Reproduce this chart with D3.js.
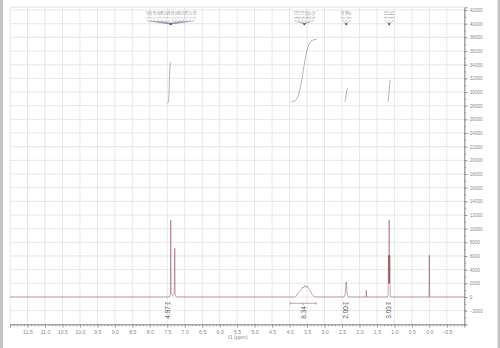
<!DOCTYPE html>
<html>
<head>
<meta charset="utf-8">
<script src="https://cdn.jsdelivr.net/npm/d3@7/dist/d3.min.js"></script>
<style>
	body{margin:0;background:#fff;}
	svg{display:block;font-family:"Liberation Sans",Arial,sans-serif;}
</style>
</head>
<body>
<svg id="nmr" width="500" height="348"></svg>
<script>
	// spectrum trace (ppm, intensity)
	var specPpm = [12.0, 7.44, 7.41, 7.40, 7.39, 7.35, 7.30, 7.285, 7.275, 7.24,
		3.86, 3.80, 3.76, 3.74, 3.70, 3.66, 3.63, 3.60, 3.56, 3.52, 3.49, 3.45, 3.41, 3.36, 3.30, 3.26,
		2.45, 2.41, 2.38, 2.35, 2.31,
		1.815, 1.805, 1.795,
		1.20, 1.18, 1.17, 1.16, 1.15, 1.14, 1.13, 1.12, 1.10,
		0.01, 0.0, -0.01, -1.0];
	var specInt = [0, 0, 300, 11250, 600, 200, 400, 7120, 300, 0,
		0, 200, 650, 730, 900, 1100, 1460, 1300, 1710, 1400, 1600, 1200, 900, 400, 100, 0,
		0, 300, 2200, 300, 0,
		0, 980, 0,
		0, 300, 6100, 2000, 11300, 2000, 6100, 300, 0,
		0, 6100, 0, 0];

	// integral curves (ppm, level on the intensity axis)
	var integralCurves = [
		[[7.50,28350],[7.47,28500],[7.45,30000],[7.43,33000],[7.41,34200],[7.39,34400]],
		[[3.95,28550],[3.88,28650],[3.81,28850],[3.74,29700],[3.66,31500],[3.58,34000],[3.50,36150],[3.42,37200],[3.36,37550],[3.22,37720]],
		[[2.42,28580],[2.40,28900],[2.38,29600],[2.36,30300],[2.33,30550]],
		[[1.18,28580],[1.16,29500],[1.14,31000],[1.12,31760]]
	];
	var integralFrom = [7.55, 3.98, 2.46, 1.23];
	var integralTo = [7.42, 3.24, 2.32, 1.12];
	var integralValue = ["4.97", "8.34", "2.00", "3.03"];

	// peak label groups
	var peakGroupPpm = [7.40, 3.58, 2.38, 1.15];
	var peakGroupLabels = [
		["7.42","7.41","7.40","7.39","7.38","7.37","7.36","7.35","7.31","7.30","7.29","7.28","7.27","7.26"],
		["3.73","3.71","3.70","3.59","3.57","3.52"],
		["2.40","2.38","2.37"],
		["1.19","1.17","1.15"]
	];

	var xTicks = [11.5,11.0,10.5,10.0,9.5,9.0,8.5,8.0,7.5,7.0,6.5,6.0,5.5,5.0,4.5,4.0,3.5,3.0,2.5,2.0,1.5,1.0,0.5,0.0,-0.5];
	var yTicks = [-2000,0,2000,4000,6000,8000,10000,12000,14000,16000,18000,20000,22000,24000,26000,28000,30000,32000,34000,36000,38000,40000,42000];

	var svg = d3.select("#nmr");
	var plotL = 10, plotR = 464.3, plotT = 7.3, plotB = 324.3;
	var x = d3.scaleLinear().domain([12, -1]).range([plotL, plotR]);
	var y = d3.scaleLinear().domain([-4000, 42400]).range([plotB, plotT]);

	// side strips of the page
	svg.append("rect").attr("x",0).attr("y",0).attr("width",3).attr("height",348).attr("fill","#c4c4c4");
	svg.append("rect").attr("x",497.5).attr("y",0).attr("width",2.5).attr("height",348).attr("fill","#c4c4c4");

	// grid
	var grid = svg.append("g").attr("stroke","#dcdcdc").attr("stroke-width",0.7);
	grid.selectAll("line.v").data([12].concat(xTicks)).enter().append("line")
		.attr("x1",function(d){return x(d)}).attr("x2",function(d){return x(d)})
		.attr("y1",plotT).attr("y2",plotB);
	grid.selectAll("line.h").data(yTicks.concat([42400])).enter().append("line")
		.attr("x1",plotL).attr("x2",plotR)
		.attr("y1",function(d){return y(d)}).attr("y2",function(d){return y(d)});

	// x axis
	var xAxis = svg.append("g").attr("transform","translate(0,"+plotB+")");
	xAxis.call(d3.axisBottom(x).tickValues(d3.range(-10,121).map(function(i){return i/10})).tickSize(2).tickFormat(""));
	xAxis.append("g").call(d3.axisBottom(x).tickValues(xTicks).tickSize(3.5).tickPadding(3).tickFormat(d3.format(".1f")));
	xAxis.selectAll("path,line").attr("stroke","#8a8a8a").attr("stroke-width",0.7);
	xAxis.selectAll("text").attr("fill","#8a8a8a").attr("font-size",5.2).attr("font-family","Liberation Sans, Arial, sans-serif");
	svg.append("text").attr("x",238).attr("y",339).attr("text-anchor","middle")
		.attr("font-size",5.2).attr("fill","#8a8a8a").text("f1 (ppm)");

	// y axis on the right
	var yAxis = svg.append("g").attr("transform","translate("+plotR+",0)");
	yAxis.call(d3.axisRight(y).tickValues(d3.range(-4,43).map(function(i){return i*1000})).tickSize(2).tickFormat(""));
	yAxis.append("g").call(d3.axisRight(y).tickValues(yTicks).tickSize(3.5).tickPadding(2).tickFormat(d3.format("d")));
	yAxis.selectAll("path,line").attr("stroke","#8a8a8a").attr("stroke-width",0.7);
	yAxis.selectAll("text").attr("fill","#8a8a8a").attr("font-size",4.6).attr("font-family","Liberation Sans, Arial, sans-serif");

	// spectrum (thin dark red: pale where single, dark where lines stack)
	var spec = specPpm.map(function(p,i){return [p, specInt[i]]});
	svg.append("path").datum(spec)
		.attr("d", d3.line().x(function(d){return x(d[0])}).y(function(d){return y(d[1])}))
		.attr("fill","none").attr("stroke","#7a2a34").attr("stroke-width",0.55).attr("stroke-opacity",0.75);

	// integral curves
	svg.selectAll("path.int").data(integralCurves).enter().append("path")
		.attr("d", d3.line().curve(d3.curveMonotoneX).x(function(d){return x(d[0])}).y(function(d){return y(d[1])}))
		.attr("fill","none").attr("stroke","#a0a0a0").attr("stroke-width",0.8);

	// integral brackets and values
	var ib = svg.append("g").attr("stroke","#777").attr("stroke-width",0.6);
	integralFrom.forEach(function(f,i){
		var x0 = x(f), x1 = x(integralTo[i]), yb = 303.3;
		ib.append("line").attr("x1",x0).attr("x2",x1).attr("y1",yb).attr("y2",yb);
		ib.append("line").attr("x1",x0).attr("x2",x0).attr("y1",yb-1.3).attr("y2",yb+1.3);
		ib.append("line").attr("x1",x1).attr("x2",x1).attr("y1",yb-1.3).attr("y2",yb+1.3);
		ib.append("line").attr("x1",(x0+x1)/2).attr("x2",(x0+x1)/2).attr("y1",yb).attr("y2",yb+2);
		svg.append("text").attr("transform","translate("+((x0+x1)/2+2.4)+",306) rotate(-90)")
			.attr("text-anchor","end").attr("font-size",6.6).attr("fill","#555").text(integralValue[i]);
	});

	// peak labels at the top
	peakGroupLabels.forEach(function(labels,g){
		var ax = x(peakGroupPpm[g]), step = 3.6;
		var x0 = ax - (labels.length-1)*step/2;
		labels.forEach(function(t,i){
			var lx = x0 + i*step;
			svg.append("text").attr("transform","translate("+(lx+1.5)+",19) rotate(-90)")
				.attr("font-size",4.2).attr("fill","#999").text(t);
			svg.append("path").attr("d","M"+lx+",19.8 L"+lx+",21 L"+ax+",24")
				.attr("fill","none").attr("stroke","#8a8aa0").attr("stroke-width",0.5);
		});
		svg.append("path").attr("d","M"+(ax-1.5)+",23.5 L"+(ax+1.5)+",23.5 L"+ax+",25.5 Z").attr("fill","#2b3a7a");
	});
</script>
</body>
</html>
